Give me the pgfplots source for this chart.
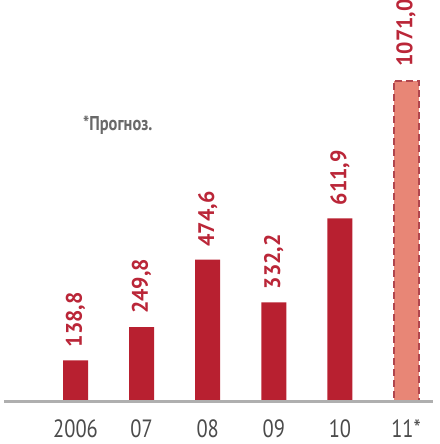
\documentclass[border=0pt]{standalone}
\usepackage{pgfplots}
\pgfplotsset{compat=1.18}
\usepackage{fontspec}
\setmainfont{PT Sans}
\newfontfamily\condfont{PT Sans}[FakeStretch=0.82]
\newfontfamily\valfont{PT Sans}[FakeStretch=0.97]

\definecolor{barred}{RGB}{184,32,48}
\definecolor{labelred}{RGB}{186,38,56}
\definecolor{salmon}{RGB}{232,134,118}
\definecolor{dashred}{RGB}{176,70,78}
\definecolor{axisgray}{RGB}{175,175,175}
\definecolor{ticktext}{RGB}{75,75,75}
\definecolor{notegray}{RGB}{105,105,105}

\begin{document}
\begin{tikzpicture}
\path[use as bounding box] (0,0) rectangle (439pt,444pt);
\begin{axis}[
  at={(4pt,42pt)}, anchor=south west,
  scale only axis, width=429pt, height=400pt,
  xmin=-1.082, xmax=5.408, ymin=0, ymax=1333.3,
  hide y axis, axis x line*=bottom,
  x axis line style={draw=axisgray, line width=3pt, -},
  xtick={0,...,5}, xticklabels={2006,07,08,09,10,11*},
  major tick length=0pt,
  xticklabel style={anchor=base, yshift=-35pt, inner sep=0pt,
    font=\condfont\fontsize{25}{25}\selectfont, text=ticktext},
  ybar, bar width=25pt, bar shift=0pt,
  nodes near coords,
  nodes near coords style={draw=none, rotate=90, anchor=west,
    inner ysep=0pt, inner xsep=13pt, text=labelred,
    font=\valfont\bfseries\fontsize{22.5}{22.5}\selectfont},
  /pgf/number format/fixed, /pgf/number format/fixed zerofill,
  /pgf/number format/precision=1, /pgf/number format/use comma,
  /pgf/number format/1000 sep={}, /pgf/number format/assume math mode=true,
  clip=false, axis on top]
% actual values 2006-2010
\addplot[fill=barred, draw=none] coordinates {(0,138.8) (1,249.8) (2,474.6) (3,332.2) (4,611.9)};
% forecast for 2011
\addplot[fill=salmon, draw=dashred, line width=2pt, dash pattern=on 7pt off 4pt]
  coordinates {(5,1071.0)};
\end{axis}
\node[anchor=base west, inner sep=0pt, text=notegray,
  font=\condfont\bfseries\fontsize{20}{20}\selectfont] at (83pt,313pt) {*Прогноз.};
\end{tikzpicture}
\end{document}
